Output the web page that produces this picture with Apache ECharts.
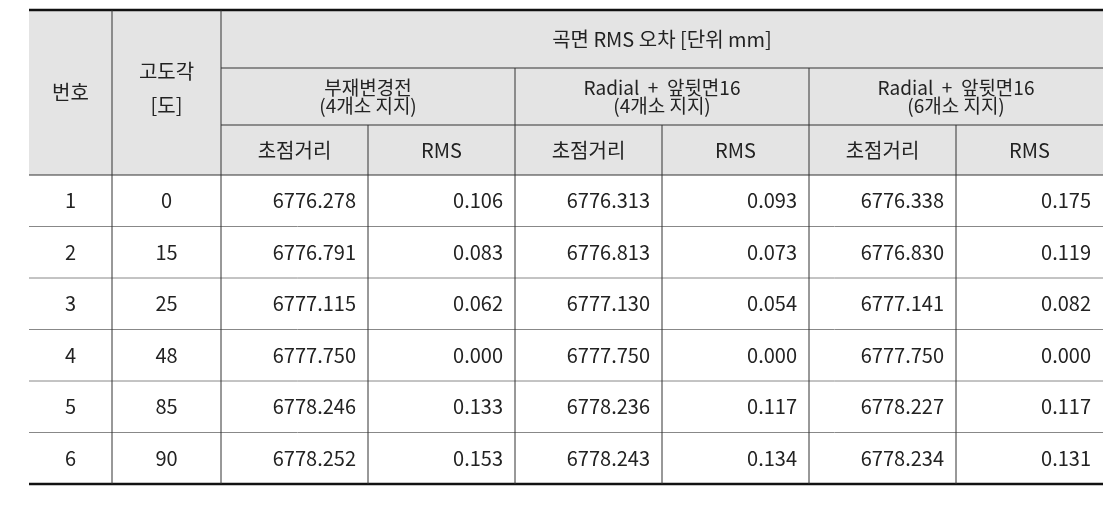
<!DOCTYPE html><html><head><meta charset="utf-8">
<script src="https://cdn.jsdelivr.net/npm/echarts@6/dist/echarts.min.js"></script>
<style>html,body{margin:0;background:#fff}#c{width:1116px;height:510px}</style></head><body><div id="c"></div>
<script>
const title = '곡면 RMS 오차 [단위 mm]';
const groups = ['부재변경전\n(4개소 지지)', 'Radial  +  앞뒷면16\n(4개소 지지)', 'Radial  +  앞뒷면16\n(6개소 지지)'];
const subHeaders = ['초점거리', 'RMS'];
const rowNo = ['1','2','3','4','5','6'];
const angles = ['0','15','25','48','85','90'];
const focal1 = ['6776.278','6776.791','6777.115','6777.750','6778.246','6778.252'];
const rms1 = ['0.106','0.083','0.062','0.000','0.133','0.153'];
const focal2 = ['6776.313','6776.813','6777.130','6777.750','6778.236','6778.243'];
const rms2 = ['0.093','0.073','0.054','0.000','0.117','0.134'];
const focal3 = ['6776.338','6776.830','6777.141','6777.750','6778.227','6778.234'];
const rms3 = ['0.175','0.119','0.082','0.000','0.117','0.131'];

const chart = echarts.init(document.getElementById('c'));
const X0=29, X1=112, X2=221, W=147, XR=1103;
const Y0=10, Y1=68, Y2=125, Y3=175, YB=484, RH=(YB-Y3)/6;
const F='"Noto Sans CJK KR", sans-serif', C='#222';
const els=[];
const rect=(x,y,w,h,fill)=>els.push({type:'rect',shape:{x,y,width:w,height:h},style:{fill},silent:true});
const line=(x1,y1,x2,y2,s,lw)=>els.push({type:'line',shape:{x1,y1,x2,y2},style:{stroke:s,lineWidth:lw},z:5});
const text=(t,x,y,align,size)=>els.push({type:'text',x,y,style:{text:t,fill:C,font:(size||20)+'px '+F,align:align||'center',verticalAlign:'middle',lineHeight:18},z:10});
rect(X0,Y0,XR-X0,Y3-Y0,'#e4e4e4');
text('번호',(X0+X1)/2,(Y0+Y3)/2);
text('고도각\n[도]',(X1+X2)/2,(Y0+Y3)/2-4);
els[els.length-1].style.lineHeight=34;
text(title,(X2+XR)/2,(Y0+Y1)/2);
groups.forEach((g,i)=>text(g,X2+W*(2*i+1),(Y1+Y2)/2,'center',19));
for(let i=0;i<6;i++) text(subHeaders[i%2],X2+W*(i+0.5),(Y2+Y3)/2);
const cols=[focal1,rms1,focal2,rms2,focal3,rms3];
for(let r=0;r<6;r++){
  const cy=Y3+RH*(r+0.5);
  text(rowNo[r],(X0+X1)/2,cy);
  text(angles[r],(X1+X2)/2,cy);
  cols.forEach((c,i)=>text(c[r],X2+W*(i+1)-12,cy,'right'));
}
const g='#888';
line(X0,Y0,XR,Y0,'#111',2.5);
line(X2,Y1,XR,Y1,'#333',1);
line(X2,Y2,XR,Y2,'#333',1);
line(X0,Y3,XR,Y3,'#333',1.2);
for(let r=1;r<6;r++) line(X0,Y3+RH*r,XR,Y3+RH*r,g,1);
line(X0,YB,XR,YB,'#111',2.5);
line(X1,Y0,X1,YB,'#333',1);
line(X2,Y0,X2,YB,'#333',1);
for(let i=1;i<6;i++){ const x=X2+W*i; line(x,i%2?Y2:Y1,x,YB,'#333',1);}
chart.setOption({animation:false,graphic:{elements:els}});
</script></body></html>
